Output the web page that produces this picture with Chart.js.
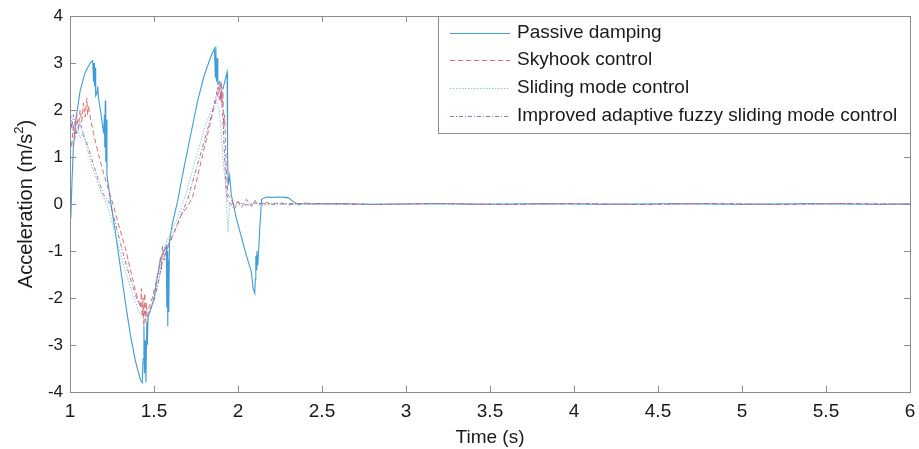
<!DOCTYPE html>
<html>
<head>
<meta charset="utf-8">
<script src="https://cdn.jsdelivr.net/npm/chart.js@4"></script>
<style>
html,body{margin:0;padding:0;background:#fff;}
#wrap{width:919px;height:449px;position:relative;}
</style>
</head>
<body>
<div id="wrap"><canvas id="c" width="919" height="449"></canvas></div>
<script>
// ---- Data ----
const seriesNames = ['Passive damping','Skyhook control','Sliding mode control','Improved adaptive fuzzy sliding mode control'];
const xTickLabels = ['1','1.5','2','2.5','3','3.5','4','4.5','5','5.5','6'];
const yTickLabels = ['-4','-3','-2','-1','0','1','2','3','4'];
const xTitle = 'Time (s)';
const yTitleMain = 'Acceleration (m/s';
const yTitleSup = '2';
const yTitleEnd = ')';

const tailTime  = [2.45,2.6,2.8,3.0,3.2,3.4,3.6,3.8,4.0,4.2,4.4,4.6,4.8,5.0,5.2,5.4,5.6,5.8,6.0];

const passiveTime = [1.000,1.005,1.012,1.02,1.035,1.06,1.09,1.12,1.135,1.14,1.143,1.146,1.15,1.153,1.16,1.165,1.17,1.185,1.2,1.205,1.207,1.21,1.213,1.216,1.22,1.24,1.27,1.3,1.33,1.36,1.39,1.42,1.43,1.435,1.44,1.443,1.447,1.452,1.457,1.46,1.465,1.48,1.5,1.52,1.54,1.56,1.573,1.576,1.579,1.582,1.585,1.588,1.592,1.61,1.64,1.68,1.72,1.76,1.8,1.84,1.86,1.865,1.868,1.872,1.876,1.88,1.89,1.9,1.91,1.935,1.938,1.942,1.95,1.96,1.99,2.02,2.05,2.08,2.09,2.1,2.103,2.106,2.109,2.112,2.118,2.13,2.14,2.17,2.2,2.24,2.28,2.3,2.33,2.36,2.4].concat(tailTime);
const passiveAccel = [0.3,-0.3,0.5,1.2,1.8,2.4,2.8,3.0,3.05,2.6,3.0,2.5,2.9,2.3,2.35,2.5,2.25,1.9,1.5,1.9,1.2,2.2,0.9,1.8,0.6,0.1,-0.6,-1.35,-2.1,-2.8,-3.35,-3.75,-3.8,-3.3,-2.6,-3.6,-2.9,-3.8,-2.5,-3.0,-2.4,-2.25,-2.0,-1.55,-1.15,-1.0,-0.9,-2.2,-1.0,-2.6,-1.2,-2.3,-0.8,-0.4,0.05,0.8,1.5,2.2,2.75,3.15,3.3,2.7,3.35,2.6,3.1,2.55,2.6,2.5,2.45,2.8,1.0,0.4,0.6,0.2,-0.3,-0.7,-1.1,-1.45,-1.8,-1.9,-1.6,-1.1,-1.4,-1.0,-1.3,-0.5,0.1,0.15,0.14,0.15,0.14,0.13,0.05,-0.02,0.02,0.0,
  0.01,-0.01,0.0,0.01,-0.01,0.0,0.01,0.0,-0.01,0.0,0.01,0.0,-0.01,0.0,0.01,0.0,-0.01,0.0,0.0];

const skyhookTime = [1.0,1.01,1.02,1.03,1.04,1.05,1.06,1.07,1.08,1.09,1.1,1.105,1.11,1.12,1.14,1.17,1.2,1.23,1.26,1.29,1.33,1.36,1.39,1.42,1.425,1.43,1.435,1.44,1.445,1.45,1.455,1.46,1.47,1.49,1.51,1.53,1.54,1.545,1.55,1.56,1.58,1.62,1.66,1.7,1.73,1.76,1.79,1.82,1.85,1.88,1.89,1.895,1.9,1.905,1.91,1.915,1.92,1.93,1.94,1.96,1.98,2.0,2.02,2.05,2.08,2.1,2.12,2.15,2.2,2.25,2.3,2.35,2.4].concat(tailTime);
const skyhookAccel = [1.5,1.2,1.7,1.4,1.9,1.6,2.0,1.75,2.15,1.85,2.25,1.9,2.1,1.85,1.5,1.05,0.65,0.3,-0.05,-0.45,-0.95,-1.4,-1.85,-2.2,-1.8,-2.4,-2.0,-2.6,-1.9,-2.5,-2.1,-2.45,-2.2,-2.0,-1.7,-1.35,-1.1,-1.4,-0.9,-1.2,-0.9,-0.6,-0.25,-0.05,0.15,0.6,1.05,1.5,1.95,2.35,2.55,2.2,2.6,2.1,2.4,1.6,1.9,0.8,0.2,0.1,-0.1,0.05,-0.08,0.1,-0.05,0.08,-0.03,0.05,0.0,0.03,-0.02,0.01,0.0,
  0.0,0.01,-0.01,0.0,0.01,0.0,-0.01,0.0,0.01,0.0,-0.01,0.0,0.01,0.0,-0.01,0.0,0.01,0.0,0.0];

const slidingTime = [1.0,1.02,1.04,1.06,1.08,1.1,1.13,1.16,1.19,1.22,1.26,1.3,1.34,1.38,1.42,1.45,1.47,1.5,1.53,1.55,1.57,1.6,1.64,1.68,1.72,1.76,1.8,1.84,1.87,1.89,1.91,1.93,1.935,1.94,1.945,1.95,1.97,2.0,2.05,2.1,2.15,2.2,2.3,2.4].concat(tailTime);
const slidingAccel = [1.9,1.5,1.75,1.4,1.55,1.2,0.8,0.5,0.2,0.0,-0.5,-1.05,-1.55,-2.0,-2.35,-2.5,-2.35,-2.05,-1.6,-1.05,-0.85,-0.6,-0.3,0.1,0.6,1.1,1.6,2.0,2.2,2.0,1.0,0.2,-0.2,-0.6,-0.3,0.0,-0.08,0.05,-0.05,0.04,-0.03,0.02,-0.01,0.0,
  0.0,-0.01,0.01,0.0,-0.01,0.0,0.01,0.0,-0.01,0.0,0.01,0.0,-0.01,0.0,0.01,0.0,-0.01,0.0,0.0];

const improvedTime = [1.0,1.01,1.02,1.04,1.06,1.08,1.1,1.13,1.16,1.2,1.24,1.28,1.32,1.36,1.4,1.44,1.47,1.5,1.53,1.55,1.58,1.62,1.66,1.7,1.74,1.78,1.82,1.85,1.87,1.88,1.89,1.9,1.91,1.92,1.93,1.94,1.97,2.0,2.05,2.1,2.2,2.3,2.4].concat(tailTime);
const improvedAccel = [2.1,1.6,1.9,1.5,1.75,1.45,1.3,0.95,0.6,0.2,0.0,-0.55,-1.1,-1.6,-2.05,-2.3,-2.3,-2.05,-1.6,-1.2,-0.95,-0.6,-0.25,0.1,0.6,1.1,1.6,2.0,2.3,2.5,2.2,2.4,1.8,1.0,0.3,0.05,-0.03,0.04,-0.02,0.02,-0.01,0.01,0.0,
  0.01,0.0,-0.01,0.0,0.01,0.0,-0.01,0.0,0.01,0.0,-0.01,0.0,0.01,0.0,-0.01,0.0,0.01,0.0,0.0];

function pts(t, v){ return t.map((x,i)=>({x:x, y:v[i]})); }

const styles = [
  {color:'#3f9dd8', dash:[], width:1.1},
  {color:'#e06a6a', dash:[5,3], width:1},
  {color:'#7fd0d2', dash:[1.5,1.5], width:1},
  {color:'#9a6cc4', dash:[4,2,1,2], width:1}
];

const frameColor = '#8c8c8c';
const textColor = '#1a1a1a';
const FONT = '"Liberation Sans", Arial, sans-serif';

const framePlugin = {
  id:'frame',
  afterDatasetsDraw(chart){
    const {ctx, chartArea:a, scales} = chart;
    ctx.save();
    ctx.strokeStyle = frameColor;
    ctx.lineWidth = 1;
    ctx.setLineDash([]);
    ctx.strokeRect(Math.round(a.left)+0.5, Math.round(a.top)+0.5, Math.round(a.right-a.left), Math.round(a.bottom-a.top));
    const tl = 6;
    ctx.beginPath();
    scales.x.ticks.forEach(t=>{
      const px = Math.round(scales.x.getPixelForValue(t.value))+0.5;
      ctx.moveTo(px, a.bottom); ctx.lineTo(px, a.bottom-tl);
      ctx.moveTo(px, a.top); ctx.lineTo(px, a.top+tl);
    });
    scales.y.ticks.forEach(t=>{
      const py = Math.round(scales.y.getPixelForValue(t.value))+0.5;
      ctx.moveTo(a.left, py); ctx.lineTo(a.left+tl, py);
      ctx.moveTo(a.right, py); ctx.lineTo(a.right-tl, py);
    });
    ctx.stroke();
    ctx.restore();
  },
  afterDraw(chart){
    const {ctx, chartArea:a} = chart;
    // y axis title with superscript
    ctx.save();
    ctx.fillStyle = textColor;
    ctx.translate(26, (a.top + a.bottom)/2);
    ctx.rotate(-Math.PI/2);
    ctx.textBaseline = 'middle';
    ctx.font = '20px ' + FONT;
    const w1 = ctx.measureText(yTitleMain).width;
    ctx.font = '13px ' + FONT;
    const w2 = ctx.measureText(yTitleSup).width;
    ctx.font = '20px ' + FONT;
    const w3 = ctx.measureText(yTitleEnd).width;
    let x0 = -(w1 + w2 + w3)/2;
    ctx.fillText(yTitleMain, x0, 0);
    ctx.font = '13px ' + FONT;
    ctx.fillText(yTitleSup, x0 + w1, -7);
    ctx.font = '20px ' + FONT;
    ctx.fillText(yTitleEnd, x0 + w1 + w2, 0);
    ctx.restore();

    // legend box
    const bx = 438, by = Math.round(a.top), bw = Math.round(a.right) - 438, bh = 117;
    ctx.save();
    ctx.fillStyle = '#fff';
    ctx.fillRect(bx, by, bw, bh);
    ctx.strokeStyle = frameColor;
    ctx.lineWidth = 1;
    ctx.strokeRect(bx+0.5, by+0.5, bw, bh);
    ctx.font = '19px ' + FONT;
    ctx.textBaseline = 'middle';
    ctx.fillStyle = textColor;
    const rowY = [33, 60, 88, 116];
    seriesNames.forEach((n,i)=>{
      const y = rowY[i] + 0.5;
      ctx.strokeStyle = styles[i].color;
      ctx.setLineDash(styles[i].dash);
      ctx.lineWidth = 1;
      ctx.beginPath(); ctx.moveTo(450, y); ctx.lineTo(510, y); ctx.stroke();
      ctx.setLineDash([]);
      ctx.fillText(n, 517, rowY[i]);
    });
    ctx.restore();
  }
};

const datasets = [
  {label:seriesNames[0], data:pts(passiveTime, passiveAccel), order:4},
  {label:seriesNames[1], data:pts(skyhookTime, skyhookAccel), order:3},
  {label:seriesNames[2], data:pts(slidingTime, slidingAccel), order:2},
  {label:seriesNames[3], data:pts(improvedTime, improvedAccel), order:1}
].map((d,i)=>Object.assign(d,{
  borderColor:styles[i].color, borderDash:styles[i].dash, borderWidth:styles[i].width,
  pointRadius:0, tension:0, fill:false
}));

new Chart(document.getElementById('c'), {
  type:'line',
  data:{datasets},
  options:{
    responsive:false, animation:false, events:[],
    layout:{padding:{top:16,right:9,left:0,bottom:0}},
    plugins:{legend:{display:false}, tooltip:{enabled:false}},
    scales:{
      x:{type:'linear', min:1, max:6,
        ticks:{stepSize:0.5, color:textColor, padding:8, maxRotation:0, autoSkip:false,
          font:{family:FONT, size:19},
          callback:(v,i)=>xTickLabels[i]},
        grid:{drawOnChartArea:false, drawTicks:false},
        border:{color:frameColor},
        title:{display:true, text:xTitle, color:textColor, padding:{top:3,bottom:0},
          font:{family:FONT, size:19}},
        afterFit(s){ s.height = 57; s.paddingLeft = 0; s.paddingRight = 0; }
      },
      y:{min:-4, max:4,
        ticks:{stepSize:1, color:textColor, padding:7,
          font:{family:FONT, size:17},
          callback:(v,i)=>yTickLabels[i]},
        grid:{drawOnChartArea:false, drawTicks:false},
        border:{color:frameColor},
        afterFit(s){ s.width = 70; s.paddingTop = 0; s.paddingBottom = 0; }
      }
    }
  },
  plugins:[framePlugin]
});
</script>
</body>
</html>
